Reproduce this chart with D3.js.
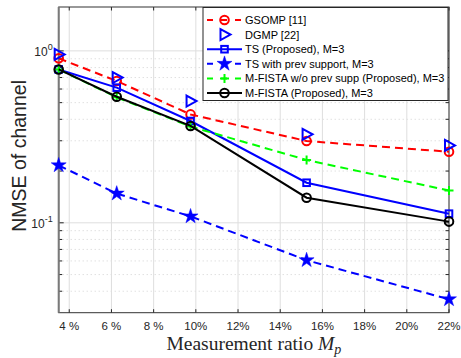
<!DOCTYPE html>
<html>
<head>
<meta charset="utf-8">
<script src="https://cdn.jsdelivr.net/npm/d3@7"></script>
<style>
  html, body { margin: 0; padding: 0; background: #fff; }
  svg { display: block; font-family: "Liberation Sans", Arial, sans-serif; }
</style>
</head>
<body>
<div id="host"></div>
<script>
// measurement ratio (%) at each point
const ratios = [3.5, 6.25, 9.75, 15.25, 22];
const xTicks = [4, 6, 8, 10, 12, 14, 16, 18, 20, 22];
const xTickLabels = ['4 %', '6 %', '8 %', '10%', '12%', '14%', '16%', '18%', '20%', '22%'];

const gsomp = [0.905, 0.668, 0.427, 0.299, 0.259];
const dgmp = [0.954, 0.699, 0.511, 0.327, 0.282];
const tsProposed = [0.78, 0.611, 0.391, 0.171, 0.113];
const tsPrevSupport = [0.216, 0.148, 0.109, 0.0606, 0.0359];
const mfistaNoPrev = [0.78, 0.537, 0.363, 0.232, 0.154];
const mfista = [0.78, 0.541, 0.366, 0.140, 0.1016];

const seriesNames = [
  'GSOMP [11]',
  'DGMP [22]',
  'TS (Proposed), M=3',
  'TS with prev support, M=3',
  'M-FISTA w/o prev supp (Proposed), M=3',
  'M-FISTA (Proposed), M=3',
];

const width = 461, height = 358;
const margin = { top: 7, right: 12, bottom: 45.3, left: 58.7 };
const innerW = width - margin.left - margin.right;
const innerH = height - margin.top - margin.bottom;

const svg = d3.select('#host').append('svg')
  .attr('width', width).attr('height', height);

const g = svg.append('g').attr('transform', `translate(${margin.left},${margin.top})`);

const x = d3.scaleLinear().domain([3.5, 22]).range([0, innerW]);
const y = d3.scaleLog().domain([0.03, 1.8]).range([innerH, 0]);

// grid
const minorY = [];
[0.01, 0.1, 1].forEach(dec => {
  for (let k = 2; k <= 9; k++) {
    const v = dec * k;
    if (v > 0.03 && v < 1.8 && v !== 0.1 && v !== 1) minorY.push(v);
  }
});
g.selectAll('line.ygrid-minor').data(minorY).join('line')
  .attr('x1', 0).attr('x2', innerW)
  .attr('y1', d => y(d)).attr('y2', d => y(d))
  .attr('stroke', '#c8c8c8').attr('stroke-width', 0.8)
  .attr('stroke-dasharray', '1,3');
g.selectAll('line.ygrid').data([0.1, 1]).join('line')
  .attr('x1', 0).attr('x2', innerW)
  .attr('y1', d => y(d)).attr('y2', d => y(d))
  .attr('stroke', '#dedede').attr('stroke-width', 1);
g.selectAll('line.xgrid').data(xTicks).join('line')
  .attr('x1', d => x(d)).attr('x2', d => x(d))
  .attr('y1', 0).attr('y2', innerH)
  .attr('stroke', '#dedede').attr('stroke-width', 1);

// tick marks (inward, both sides)
const tickLen = 3.5;
g.selectAll('line.xt-b').data(xTicks).join('line')
  .attr('x1', d => x(d)).attr('x2', d => x(d))
  .attr('y1', innerH).attr('y2', innerH - tickLen)
  .attr('stroke', '#262626');
g.selectAll('line.xt-t').data(xTicks).join('line')
  .attr('x1', d => x(d)).attr('x2', d => x(d))
  .attr('y1', 0).attr('y2', tickLen)
  .attr('stroke', '#262626');
const allY = minorY.concat([0.1, 1]);
g.selectAll('line.yt-l').data(allY).join('line')
  .attr('x1', 0).attr('x2', d => (d === 0.1 || d === 1) ? tickLen + 1.5 : tickLen)
  .attr('y1', d => y(d)).attr('y2', d => y(d))
  .attr('stroke', '#262626');
g.selectAll('line.yt-r').data(allY).join('line')
  .attr('x1', innerW).attr('x2', d => innerW - ((d === 0.1 || d === 1) ? tickLen + 1.5 : tickLen))
  .attr('y1', d => y(d)).attr('y2', d => y(d))
  .attr('stroke', '#262626');

// box
g.append('rect')
  .attr('x', 0).attr('y', 0).attr('width', innerW).attr('height', innerH)
  .attr('fill', 'none').attr('stroke', '#333').attr('stroke-width', 1);
g.append('line')
  .attr('x1', 0).attr('x2', 0).attr('y1', 0).attr('y2', innerH)
  .attr('stroke', '#7a7a7a').attr('stroke-width', 2);

// tick labels
g.selectAll('text.xl').data(xTicks).join('text')
  .attr('x', d => x(d)).attr('y', innerH + 17)
  .attr('text-anchor', 'middle')
  .attr('font-size', 11.5).attr('fill', '#262626')
  .text((d, i) => xTickLabels[i]);

const yLab = g.selectAll('text.yl').data([{ v: 1, e: '0' }, { v: 0.1, e: '-1' }]).join('text')
  .attr('x', -6).attr('y', d => y(d.v) + 5)
  .attr('text-anchor', 'end')
  .attr('font-size', 12).attr('fill', '#262626');
yLab.append('tspan').text('10');
yLab.append('tspan').attr('dy', -6).attr('font-size', 9).text(d => d.e);

// axis titles
svg.append('text')
  .attr('transform', `translate(26,${margin.top + y(0.245)}) rotate(-90)`)
  .attr('text-anchor', 'middle')
  .attr('font-size', 19.5).attr('fill', '#262626')
  .text('NMSE of channel');

const xt = svg.append('text')
  .attr('x', margin.left + x(12.75)).attr('y', 350)
  .attr('text-anchor', 'middle')
  .attr('font-family', '"Liberation Serif", "Times New Roman", serif')
  .attr('font-size', 19.5).attr('fill', '#262626');
xt.append('tspan').text('Measurement ratio ');
xt.append('tspan').attr('font-style', 'italic').text('M');
xt.append('tspan').attr('font-style', 'italic').attr('font-size', 14).attr('dy', 4).text('p');

// series
const series = [
  { values: gsomp, color: '#ff0000', dash: '8,5', line: true, marker: 'circle' },
  { values: dgmp, color: '#0000ff', dash: null, line: false, marker: 'triangle' },
  { values: tsProposed, color: '#0000ff', dash: null, line: true, marker: 'square' },
  { values: tsPrevSupport, color: '#0000ff', dash: '8,5', line: true, marker: 'star' },
  { values: mfistaNoPrev, color: '#00ff00', dash: '8,5', line: true, marker: 'plus' },
  { values: mfista, color: '#000000', dash: null, line: true, marker: 'circle' },
];

function drawMarker(sel, type, color) {
  if (type === 'circle') {
    sel.append('circle').attr('r', 4.3)
      .attr('fill', 'none').attr('stroke', color).attr('stroke-width', 2);
  } else if (type === 'triangle') {
    sel.append('path').attr('d', 'M-4,-5.5 L6,0 L-4,5.5 Z')
      .attr('fill', 'none').attr('stroke', color).attr('stroke-width', 2);
  } else if (type === 'square') {
    sel.append('rect').attr('x', -3.3).attr('y', -3.3).attr('width', 6.6).attr('height', 6.6)
      .attr('fill', 'none').attr('stroke', color).attr('stroke-width', 2);
  } else if (type === 'star') {
    sel.append('path').attr('d', d3.symbol(d3.symbolStar, 70)())
      .attr('fill', color).attr('stroke', color).attr('stroke-width', 0.5);
  } else if (type === 'plus') {
    sel.append('path').attr('d', 'M-4.5,0 H4.5 M0,-4.5 V4.5')
      .attr('fill', 'none').attr('stroke', color).attr('stroke-width', 2);
  }
}

const line = d3.line().x((d, i) => x(ratios[i])).y(d => y(d));

series.forEach(s => {
  if (s.line) {
    g.append('path').datum(s.values)
      .attr('d', line)
      .attr('fill', 'none').attr('stroke', s.color).attr('stroke-width', 2)
      .attr('stroke-dasharray', s.dash);
  }
  g.selectAll(null).data(s.values).join('g')
    .attr('transform', (d, i) => `translate(${x(ratios[i])},${y(d)})`)
    .each(function () { drawMarker(d3.select(this), s.marker, s.color); });
});

// legend
const lg = svg.append('g').attr('transform', 'translate(203,7.5)');
lg.append('rect').attr('width', 245).attr('height', 93)
  .attr('fill', '#fff').attr('stroke', '#262626').attr('stroke-width', 1);
series.forEach((s, i) => {
  const row = lg.append('g').attr('transform', `translate(0,${12.5 + i * 14.6})`);
  if (s.line) {
    row.append('line').attr('x1', 4).attr('x2', 39).attr('y1', 0).attr('y2', 0)
      .attr('stroke', s.color).attr('stroke-width', 2).attr('stroke-dasharray', s.dash ? '6,8' : null);
  }
  drawMarker(row.append('g').attr('transform', 'translate(21.5,0)'), s.marker, s.color);
  row.append('text').attr('x', 42).attr('y', 4)
    .attr('font-size', 11).attr('fill', '#000')
    .text(seriesNames[i]);
});
</script>
</body>
</html>
